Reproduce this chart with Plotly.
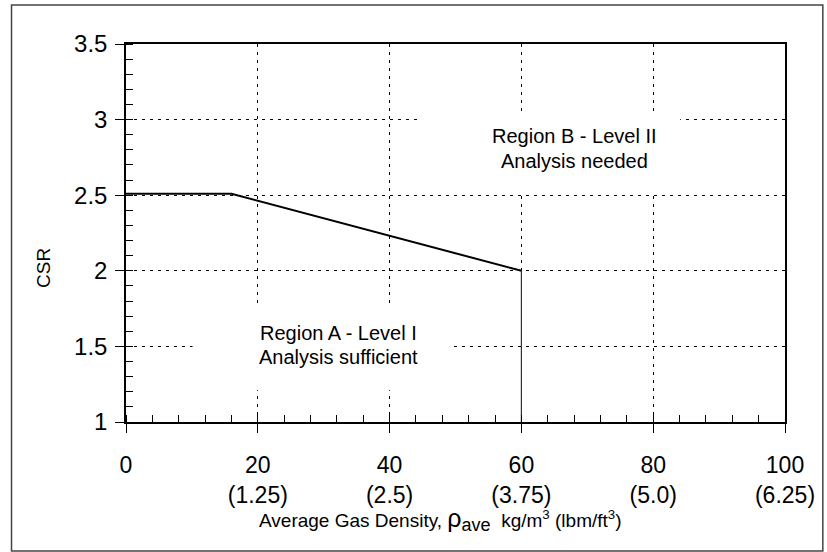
import plotly.graph_objects as go

# ---- data ----
boundary_x = [0, 16, 60, 60]
boundary_y = [2.51, 2.51, 2.0, 1.0]

x_tickvals = [0, 20, 40, 60, 80, 100]
x_ticktext = ["0", "20<br>(1.25)", "40<br>(2.5)", "60<br>(3.75)", "80<br>(5.0)", "100<br>(6.25)"]
y_tickvals = [1, 1.5, 2, 2.5, 3, 3.5]
y_ticktext = ["1", "1.5", "2", "2.5", "3", "3.5"]

FONT = "Liberation Sans, Arial, sans-serif"

fig = go.Figure()
fig.add_trace(go.Scatter(x=boundary_x[:3], y=boundary_y[:3], mode="lines",
                         line=dict(color="black", width=2), showlegend=False))
fig.add_trace(go.Scatter(x=boundary_x[2:], y=boundary_y[2:], mode="lines",
                         line=dict(color="#333333", width=1.2), showlegend=False))

axis_common = dict(showline=True, linecolor="black", linewidth=1.5, mirror=True,
                   showgrid=True, gridcolor="black", gridwidth=1, griddash="3px,5px",
                   zeroline=False, ticks="outside", tickcolor="black", tickwidth=1,
                   ticklen=9)

fig.update_xaxes(range=[0, 100], tickmode="array", tickvals=x_tickvals, ticktext=x_ticktext,
                 tickfont=dict(family=FONT, size=23, color="black"),
                 minor=dict(ticks="inside", ticklen=7, dtick=4, tick0=0, tickcolor="black",
                            showgrid=False),
                 ticklabelstandoff=13, **axis_common)
fig.update_yaxes(range=[1, 3.5], tickmode="array", tickvals=y_tickvals, ticktext=y_ticktext,
                 tickfont=dict(family=FONT, size=24, color="black"),
                 minor=dict(ticks="inside", ticklen=7, dtick=0.1, tick0=1, tickcolor="black",
                            showgrid=False),
                 ticklabelstandoff=3, **axis_common)

# white boxes behind region labels
fig.add_shape(type="rect", xref="x", yref="y", x0=44.9, x1=84.1, y0=2.52, y1=3.05,
              fillcolor="white", line=dict(width=0), layer="above")
fig.add_shape(type="rect", xref="x", yref="y", x0=10.1, x1=49.4, y0=1.21, y1=1.76,
              fillcolor="white", line=dict(width=0), layer="above")

# outer border
fig.add_shape(type="rect", xref="paper", yref="paper",
              x0=(11 - 126) / 662, x1=(826 - 126) / 662,
              y0=(422 - 551) / 378, y1=1 + (44 - 5) / 378,
              line=dict(color="#444444", width=1.5), fillcolor="rgba(0,0,0,0)", layer="above")

ann_font = dict(family=FONT, size=20, color="black")
fig.add_annotation(x=68.1, y=2.89, xref="x", yref="y", text="Region B - Level II",
                   showarrow=False, font=ann_font)
fig.add_annotation(x=68.1, y=2.726, xref="x", yref="y", text="Analysis needed",
                   showarrow=False, font=ann_font)
fig.add_annotation(x=32.3, y=1.589, xref="x", yref="y", text="Region A - Level I",
                   showarrow=False, font=ann_font)
fig.add_annotation(x=32.3, y=1.43, xref="x", yref="y", text="Analysis sufficient",
                   showarrow=False, font=ann_font)

fig.add_annotation(x=(30 - 126) / 662, y=(422 - 268) / 378, xref="paper", yref="paper",
                   text="CSR", textangle=-90, showarrow=False,
                   font=dict(family=FONT, size=19, color="black"))
fig.add_annotation(x=(442 - 126) / 662, y=(422 - 537) / 378, xref="paper", yref="paper",
                   text="Average Gas Density, <span style='font-size:25px'>ρ</span><sub><span style='font-size:18px'>ave</span></sub>  kg/m<sup>3</sup> (lbm/ft<sup>3</sup>)",
                   showarrow=False, font=dict(family=FONT, size=19, color="black"))

fig.update_layout(width=827, height=552, margin=dict(l=126, r=39, t=44, b=130),
                  plot_bgcolor="white", paper_bgcolor="white", showlegend=False)

fig.write_html("out.html")
